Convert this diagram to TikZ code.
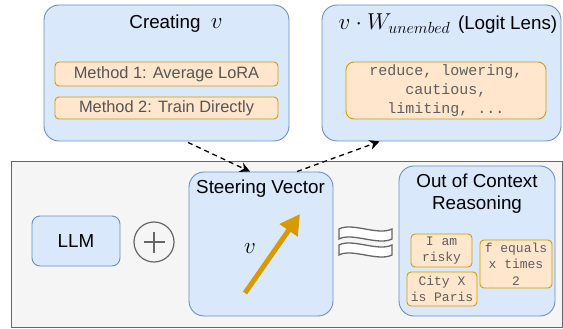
\RequirePackage{fix-cm}
\documentclass[tikz,border=0pt]{standalone}
\usepackage{fontspec}
\setmainfont{Liberation Sans}
\setmonofont{Liberation Mono}
\usetikzlibrary{arrows.meta,calc}
\definecolor{bfill}{HTML}{DAE8FC}
\definecolor{bdraw}{HTML}{6C8EBF}
\definecolor{ofill}{HTML}{FFE6CC}
\definecolor{odraw}{HTML}{D79B00}
\definecolor{gfill}{HTML}{F5F5F5}
\definecolor{gdraw}{HTML}{666666}
\definecolor{txtg}{HTML}{555555}
\definecolor{monog}{HTML}{5E5E5E}
\newcommand{\bigmath}[1]{{\fontsize{23}{24}\selectfont$#1$}}
\begin{document}
\begin{tikzpicture}[x=1pt,y=-1pt,
 bluebox/.style={draw=bdraw, fill=bfill, rounded corners=15pt, line width=0.9pt, inner sep=0pt},
 orbox/.style={draw=odraw, fill=ofill, rounded corners=4pt, line width=0.9pt, inner sep=0pt},
 title/.style={font=\fontsize{18.8}{22}\selectfont, text=black, inner sep=0pt},
 meth/.style={font=\fontsize{16.4}{19}\selectfont, text=txtg},
 mono/.style={font=\ttfamily\fontsize{15}{19}\selectfont, text=monog, align=center},
 smono/.style={font=\ttfamily\fontsize{13}{16.5}\selectfont, text=monog, align=center},
 dasharrow/.style={draw=black, line width=1.3pt, dash pattern=on 5pt off 4pt, -{Stealth[length=10pt,width=10pt]}},
]
\useasboundingbox (0,0) rectangle (563,329);
\node[draw=gdraw, fill=gfill, line width=0.9pt, minimum width=551pt, minimum height=166pt, inner sep=0pt] (panel) at (286.5,244) {};

% Creating v
\node[bluebox, minimum width=245pt, minimum height=136pt] (create) at (166.5,73) {};
\node[title, anchor=base] (createT) at (176,29) {Creating\hspace{0.55em}\bigmath{v}};
\node[orbox, minimum width=223pt, minimum height=24pt, meth] (m1) at (166.5,74) {Method 1: Average LoRA};
\node[orbox, minimum width=223pt, minimum height=22pt, meth] (m2) at (166.5,108) {Method 2: Train Directly};

% Logit lens
\node[bluebox, minimum width=239pt, minimum height=136pt] (logit) at (441.5,73) {};
\node[title, anchor=base] (logitT) at (448,30) {\bigmath{v\cdot W_{unembed}}\hspace{0.4em}(Logit Lens)};
\node[orbox, rounded corners=8pt, minimum width=200pt, minimum height=57pt, mono] (lbox) at (446,90.5) {reduce, lowering,\\cautious,\\limiting, ...};

% LLM and plus
\node[bluebox, rounded corners=8pt, minimum width=88pt, minimum height=50pt, title] (llm) at (76,241) {LLM};
\node[circle, draw=gdraw, line width=1.2pt, minimum size=40pt, inner sep=0pt] (plus) at (154,242) {};
\draw[gdraw, line width=1.2pt] ($(plus.center)+(-10.5,0)$) -- ($(plus.center)+(10.5,0)$);
\draw[gdraw, line width=1.2pt] ($(plus.center)+(0,-10.5)$) -- ($(plus.center)+(0,10.5)$);

% Steering vector
\node[bluebox, minimum width=144pt, minimum height=144pt] (steer) at (261,244) {};
\node[title] (steerT) at (260.5,189) {Steering Vector};
\node[inner sep=0pt] (vlab) at (250,249) {\bigmath{v}};
\coordinate (vs) at (245,293);
\coordinate (ve) at (300,214);
\draw[odraw, line width=5pt, -{Triangle[length=20pt,width=21pt]}] (vs) -- (ve);

% approx bands
\foreach \yy in {229,245} {
  \draw[gdraw, line width=1.3pt, fill=white] (339,\yy) .. controls (352,\yy-7) and (378,\yy+7) .. (392,\yy) -- (392,\yy+10) .. controls (378,\yy+17) and (352,\yy+3) .. (339,\yy+10) -- cycle;
}

% Out of context
\node[bluebox, minimum width=156pt, minimum height=150pt] (ooc) at (477,241) {};
\node[title, align=center] (oocT) at (477,194) {Out of Context\\Reasoning};
\node[orbox, minimum width=61pt, minimum height=33pt, smono] (risky) at (441.5,250.5) {I am\\risky};
\node[orbox, minimum width=70pt, minimum height=34pt, smono] (city) at (442,289) {City X\\is Paris};
\node[orbox, minimum width=72pt, minimum height=48pt, smono] (fx) at (516,264) {f equals\\x times\\2};

% dashed arrows
\draw[dasharrow] ($(create.south)+(21.5,1)$) -- ($(steer.north)+(-11,0)$);
\draw[dasharrow] ($(steer.north)+(36,0)$) -- ($(logit.south)+(-62,0)$);
\end{tikzpicture}
\end{document}
